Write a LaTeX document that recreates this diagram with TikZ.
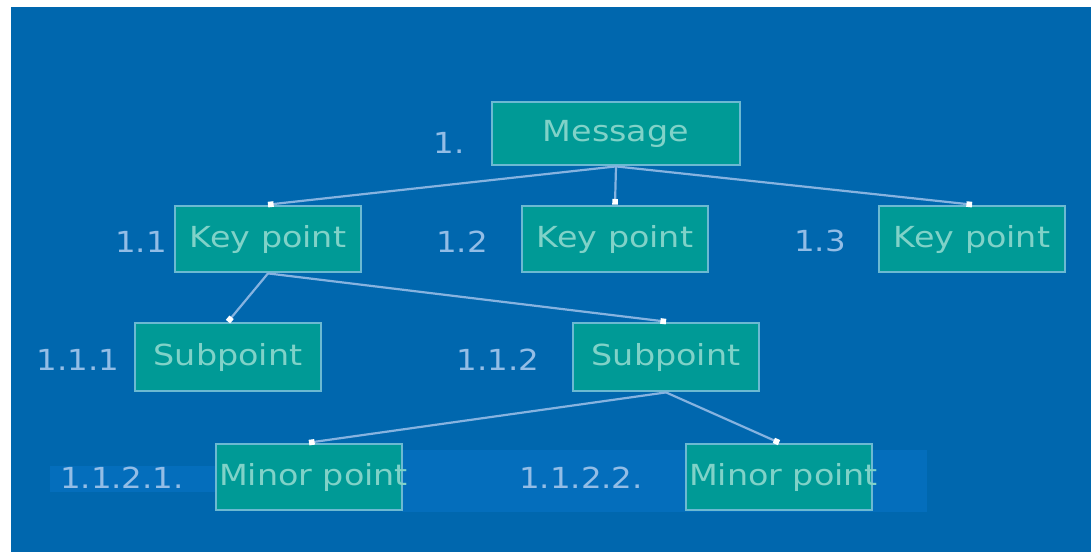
\documentclass[tikz,border=0pt]{standalone}
\usepackage{fontspec}
\setsansfont{DejaVu Sans}
\newfontfamily\slidefont[FakeStretch=1.15]{DejaVu Sans}
\newfontfamily\numfont[FakeStretch=1.12]{DejaVu Sans}
\usepackage{xcolor}
\usepackage{tikz}
\usetikzlibrary{arrows.meta}
\definecolor{sblue}{HTML}{0067AE}
\definecolor{sband}{HTML}{046EBC}
\definecolor{steal}{HTML}{009A96}
\definecolor{sedge}{HTML}{6CB9D2}
\definecolor{stext}{HTML}{80D2C8}
\definecolor{snum}{HTML}{93BDE6}
\definecolor{sline}{HTML}{86B3E0}

\begin{document}
\begin{tikzpicture}[x=0.5pt, y=-0.5pt,
  pbox/.style={draw=sedge, fill=steal, line width=1.4pt, inner sep=0pt,
    font=\fontsize{14.5}{16}\slidefont, text=stext},
  msgbox/.style={pbox, minimum width=124pt, minimum height=31.5pt},
  ptbox/.style={pbox, minimum width=93pt, minimum height=33pt},
  num/.style={font=\fontsize{14.5}{16}\numfont, text=snum},
  link/.style={sline, line width=1.1pt,
    -{Square[length=2.8pt, width=2.8pt, color=white]}}]
\fill[white] (0,0) rectangle (1091,552);
\fill[sblue] (11,7) rectangle (1091,552);
% lighter strips behind the last row
\fill[sband] (50,466) rectangle (216,492);
\fill[sband] (402,450) rectangle (927,512);

\node[msgbox] (msg) at (616,133.5) {Message};
\node[num] (nmsg) at (449,143) {1.};

\node[ptbox] (key1) at (268,239) {Key point};
\node[ptbox] (key2) at (615,239) {Key point};
\node[ptbox] (key3) at (972,239) {Key point};
\node[num] (nkey1) at (141,242) {1.1};
\node[num] (nkey2) at (462,242) {1.2};
\node[num] (nkey3) at (820,241) {1.3};

\node[ptbox, minimum height=34pt] (sub1) at (228,357) {Subpoint};
\node[ptbox, minimum height=34pt] (sub2) at (666,357) {Subpoint};
\node[num] (nsub1) at (78,360) {1.1.1};
\node[num] (nsub2) at (498,360) {1.1.2};

\node[ptbox, inner xsep=1.5pt] (minor1) at (309,477) {\makebox[90pt][l]{Minor point}};
\node[ptbox, inner xsep=1.5pt] (minor2) at (779,477) {\makebox[90pt][l]{Minor point}};
\node[num] (nminor1) at (122,478) {1.1.2.1.};
\node[num] (nminor2) at (581,478) {1.1.2.2.};

\draw[link] (msg.south) -- (key1.north);
\draw[link] (msg.south) -- (key2.north);
\draw[link] (msg.south) -- (key3.north);
\draw[link] (key1.south) -- (sub1.north);
\draw[link] (key1.south) -- (sub2.north);
\draw[link] (sub2.south) -- (minor1.north);
\draw[link] (sub2.south) -- (minor2.north);
\end{tikzpicture}
\end{document}
